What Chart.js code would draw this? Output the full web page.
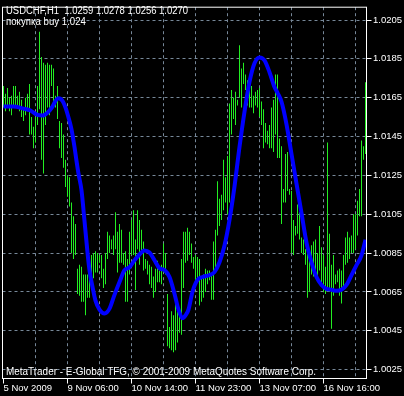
<!DOCTYPE html>
<html><head><meta charset="utf-8">
<script src="https://cdn.jsdelivr.net/npm/chart.js@4"></script>
<style>html,body{margin:0;padding:0;background:#000;overflow:hidden}#c{display:block}</style>
</head><body>
<div style="width:404px;height:396px;position:relative"><canvas id="c" width="404" height="396"></canvas></div>
<script>
const symbolTitle = 'USDCHF,H1  1.0259 1.0278 1.0256 1.0270';
const indicatorTitle = 'покупка buy 1.024';
const copyright = 'MetaTrader - E-Global TFG, © 2001-2009 MetaQuotes Software Corp.';

const timeLabels = ['5 Nov 2009', '9 Nov 06:00', '10 Nov 14:00', '11 Nov 23:00', '13 Nov 07:00', '16 Nov 16:00'];
const timeLabelBars = [0, 32, 64, 96, 128, 160];
const gridBars = [0, 16, 32, 48, 64, 80, 96, 112, 128, 144, 160, 176];
const priceTicks = [1.0025, 1.0045, 1.0065, 1.0085, 1.0105, 1.0125, 1.0145, 1.0165, 1.0185, 1.0205];
const priceMin = 1.002044;
const priceMax = 1.021159;
const barFirst = -0.5;
const barLast = 181.5;

const barLow = [
1.0160,1.0158,1.0160,1.0158,1.0156,1.0160,1.0160,1.0161,1.0158,1.0155,
1.0153,1.0156,1.0158,1.0146,1.0146,1.0139,1.0142,1.0151,1.0159,1.0133,
1.0126,1.0151,1.0160,1.0156,1.0171,1.0163,1.0160,1.0154,1.0139,1.0134,
1.0129,1.0119,1.0114,1.0109,1.0085,1.0082,1.0084,1.0064,1.0063,1.0060,
1.0060,1.0053,1.0062,1.0062,1.0067,1.0072,1.0075,1.0075,1.0080,1.0072,
1.0067,1.0069,1.0082,1.0085,1.0087,1.0084,1.0087,1.0075,1.0080,1.0080,
1.0079,1.0060,1.0060,1.0074,1.0084,1.0084,1.0066,1.0087,1.0079,1.0084,
1.0076,1.0077,1.0074,1.0069,1.0067,1.0062,1.0065,1.0070,1.0070,1.0069,
1.0075,1.0074,1.0037,1.0036,1.0035,1.0034,1.0035,1.0039,1.0044,1.0043,
1.0067,1.0080,1.0081,1.0084,1.0080,1.0077,1.0071,1.0072,1.0058,1.0060,
1.0062,1.0065,1.0069,1.0071,1.0061,1.0061,1.0075,1.0094,1.0099,1.0102,
1.0107,1.0111,1.0105,1.0111,1.0146,1.0154,1.0151,1.0161,1.0165,1.0160,
1.0172,1.0169,1.0161,1.0160,1.0160,1.0157,1.0161,1.0160,1.0155,1.0151,
1.0139,1.0142,1.0141,1.0139,1.0139,1.0137,1.0146,1.0134,1.0134,1.0100,
1.0111,1.0111,1.0117,1.0115,1.0085,1.0084,1.0094,1.0095,1.0092,1.0085,
1.0084,1.0079,1.0062,1.0065,1.0074,1.0073,1.0073,1.0073,1.0076,1.0069,
1.0065,1.0064,1.0067,1.0065,1.0046,1.0063,1.0069,1.0070,1.0063,1.0059,
1.0067,1.0079,1.0080,1.0082,1.0085,1.0085,1.0087,1.0094,1.0104,1.0104,
1.0133,1.0136];
const barHigh = [
1.0171,1.0167,1.0170,1.0165,1.0166,1.0171,1.0171,1.0166,1.0168,1.0164,
1.0160,1.0165,1.0167,1.0172,1.0155,1.0150,1.0155,1.0171,1.0199,1.0186,
1.0183,1.0182,1.0183,1.0182,1.0182,1.0180,1.0166,1.0171,1.0153,1.0152,
1.0146,1.0133,1.0125,1.0124,1.0111,1.0104,1.0100,1.0077,1.0079,1.0078,
1.0074,1.0074,1.0074,1.0072,1.0084,1.0085,1.0086,1.0085,1.0084,1.0084,
1.0077,1.0085,1.0096,1.0094,1.0092,1.0094,1.0106,1.0096,1.0100,1.0097,
1.0085,1.0086,1.0082,1.0096,1.0102,1.0107,1.0092,1.0107,1.0102,1.0097,
1.0091,1.0082,1.0081,1.0079,1.0078,1.0073,1.0077,1.0081,1.0076,1.0079,
1.0090,1.0085,1.0064,1.0047,1.0055,1.0053,1.0060,1.0056,1.0053,1.0082,
1.0096,1.0096,1.0098,1.0096,1.0090,1.0083,1.0084,1.0083,1.0082,1.0072,
1.0074,1.0077,1.0076,1.0076,1.0074,1.0091,1.0097,1.0122,1.0113,1.0115,
1.0133,1.0124,1.0135,1.0162,1.0169,1.0165,1.0168,1.0164,1.0192,1.0180,
1.0183,1.0177,1.0174,1.0169,1.0171,1.0166,1.0168,1.0169,1.0170,1.0163,
1.0159,1.0152,1.0148,1.0151,1.0160,1.0164,1.0177,1.0177,1.0144,1.0140,
1.0118,1.0136,1.0137,1.0118,1.0117,1.0102,1.0099,1.0110,1.0106,1.0093,
1.0092,1.0087,1.0085,1.0086,1.0089,1.0091,1.0092,1.0085,1.0099,1.0088,
1.0084,1.0078,1.0142,1.0095,1.0079,1.0084,1.0074,1.0076,1.0077,1.0076,
1.0084,1.0093,1.0096,1.0093,1.0094,1.0105,1.0105,1.0112,1.0118,1.0143,
1.0140,1.0173];

const maBar = [0,5,10,13.5,17,19.5,22,24.5,26,27.5,29.5,31,32.5,34,35.5,36.5,37.5,39,40.5,42,43,44.5,46,48,50.5,53,55.5,58,60.5,63,65.5,68,70.5,73,75.5,78,80.5,83,85.5,87.5,89.5,91,92.5,94.5,97,99.5,103,105.5,108,110.5,113,115.5,118,120.5,123,125.5,128,130.5,133,135.5,137,139,141.5,144,146.5,149,151.5,154,156.5,159,161.5,164,166.5,169,171.5,174,176.5,179,181];
const maValue = [1.01605,1.01605,1.01594,1.01584,1.01561,1.01558,1.01573,1.01604,1.01634,1.01647,1.01634,1.01599,1.01548,1.01487,1.01396,1.01325,1.01259,1.01173,1.01016,1.00853,1.00762,1.00676,1.00605,1.00559,1.00539,1.00564,1.00635,1.00701,1.00762,1.00777,1.00813,1.00843,1.00864,1.00853,1.00813,1.00772,1.00762,1.00727,1.00641,1.00559,1.00514,1.00529,1.00559,1.00651,1.00712,1.00727,1.00737,1.00752,1.00803,1.00889,1.01021,1.01193,1.01396,1.01578,1.01731,1.01827,1.01857,1.01842,1.01781,1.01705,1.01675,1.01629,1.01513,1.01360,1.01208,1.01056,1.00904,1.00803,1.00727,1.00686,1.00666,1.00661,1.00656,1.00661,1.00686,1.00737,1.00788,1.00838,1.00919];

const GRID = '#778899';
const NONE = 'rgba(0,0,0,0)';
const BAR = '#22ee22';
const TXT = '#ffffff';
const FONT = "'Liberation Sans', Arial, sans-serif";

const frame = {
  id: 'frame',
  beforeDraw(chart) {
    const c = chart.ctx; c.save(); c.fillStyle = '#000'; c.fillRect(0, 0, chart.width, chart.height); c.restore();
  },
  afterDraw(chart) {
    const c = chart.ctx, a = chart.chartArea;
    c.save();
    c.strokeStyle = '#fff'; c.lineWidth = 1;
    c.strokeRect(a.left, a.top, a.right - a.left, a.bottom - a.top);
    c.fillStyle = TXT; c.textBaseline = 'alphabetic'; c.textAlign = 'left';
    const fit = (t, x, y, w) => {
      c.font = '10px ' + FONT;
      const m = c.measureText(t).width;
      c.save(); c.translate(x, y); c.scale(w / m, 1); c.fillText(t, 0, 0); c.restore();
    };
    fit(symbolTitle, 6, 13.5, 182);
    fit(indicatorTitle, 6, 24.5, 80);
    fit(copyright, 6, 374.5, 310);
    c.restore();
  }
};

const tickVal = c => (c.tick ? c.tick.value : null);

new Chart(document.getElementById('c'), {
  type: 'bar',
  data: {
    datasets: [
      {
        type: 'line', order: 0,
        data: maBar.map((b, i) => ({ x: b, y: maValue[i] })),
        borderColor: '#0000ff', borderWidth: 4, pointRadius: 0,
        cubicInterpolationMode: 'monotone', fill: false
      },
      {
        type: 'bar', order: 1, grouped: false,
        data: barLow.map((l, i) => ({ x: i, y: [l, barHigh[i]] })),
        backgroundColor: BAR, borderWidth: 0, barThickness: 1, inflateAmount: 0
      }
    ]
  },
  options: {
    responsive: false, animation: false, devicePixelRatio: 1,
    layout: { padding: { left: 2.5, top: 1.5, right: 0, bottom: 0 } },
    plugins: { legend: { display: false }, tooltip: { enabled: false } },
    scales: {
      x: {
        type: 'linear', offset: false, min: barFirst, max: barLast,
        afterBuildTicks: s => { s.ticks = gridBars.map(v => ({ value: v })); },
        grid: {
          offset: false, lineWidth: 1, drawTicks: true, tickLength: 5, tickWidth: 1, tickBorderDash: [],
          color: c => (tickVal(c) > 0) ? GRID : NONE,
          tickColor: c => timeLabelBars.includes(tickVal(c)) ? '#fff' : NONE
        },
        border: { display: false, dash: [3, 3] },
        ticks: {
          autoSkip: false, maxRotation: 0, minRotation: 0, align: 'start', padding: 0,
          color: TXT, font: { family: FONT, size: 9.5, lineHeight: 1 },
          callback: v => { const j = timeLabelBars.indexOf(v); return j >= 0 ? timeLabels[j] : ''; }
        },
        afterFit: s => { s.height = 17.5; }
      },
      y: {
        type: 'linear', position: 'right', min: priceMin, max: priceMax,
        afterBuildTicks: s => { s.ticks = priceTicks.map(v => ({ value: v })); },
        grid: { color: GRID, lineWidth: 1, tickColor: '#fff', tickLength: 5, tickWidth: 1, tickBorderDash: [] },
        border: { display: false, dash: [3, 3] },
        ticks: { color: TXT, padding: 1.5, autoSkip: false, font: { family: FONT, size: 9.5 }, callback: v => Number(v).toFixed(4) },
        afterFit: s => { s.width = 37.5; }
      }
    }
  },
  plugins: [frame]
});
</script>
</body></html>
